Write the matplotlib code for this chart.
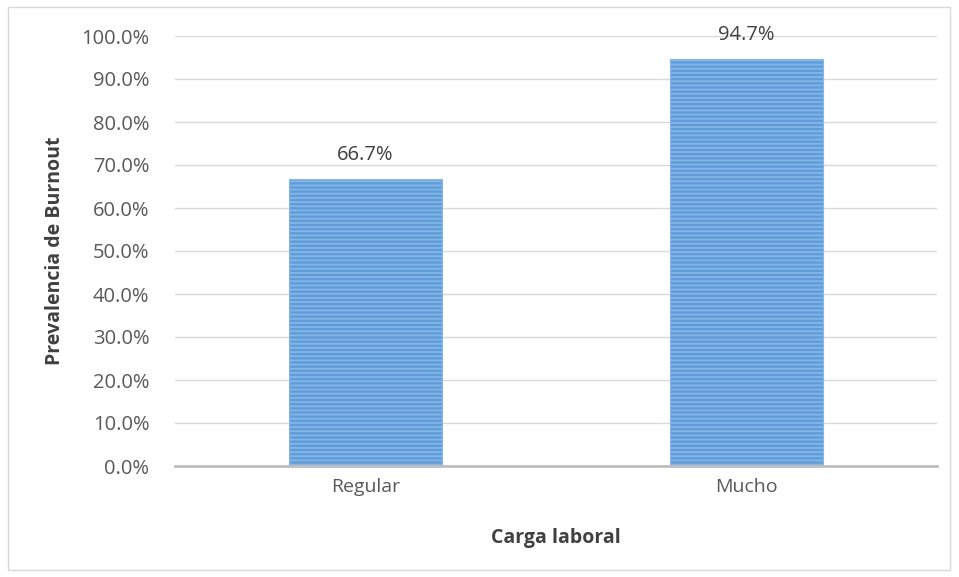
import matplotlib.pyplot as plt
from matplotlib.patches import Rectangle
from matplotlib.ticker import PercentFormatter

categories = ["Regular", "Mucho"]
prevalence = [66.7, 94.7]
y_ticks = [0, 10, 20, 30, 40, 50, 60, 70, 80, 90, 100]

plt.rcParams['font.family'] = ['Open Sans', 'DejaVu Sans']
plt.rcParams['hatch.color'] = '#d3e4f6'
plt.rcParams['hatch.linewidth'] = 1.3

fig = plt.figure(figsize=(9.59, 5.77), dpi=100)
ax = fig.add_axes([175 / 959, 111 / 577, 762 / 959, 430 / 577])

text_color = '#595959'
x = range(len(categories))
bars = ax.bar(x, prevalence, width=0.4, color='#5f9dda', edgecolor='#86b6e6',
              linewidth=0.8, hatch='----', zorder=3)

for xi, v in zip(x, prevalence):
    ax.annotate(f"{v:.1f}%", (xi, v), xytext=(0, 10), textcoords='offset points',
                ha='center', va='bottom', fontsize=14.5, color='#404040')

ax.set_xlim(-0.5, 1.5)
ax.set_ylim(0, 100)
ax.set_yticks(y_ticks)
ax.yaxis.set_major_formatter(PercentFormatter(decimals=1))
ax.set_xticks(list(x))
ax.set_xticklabels(categories)
ax.tick_params(axis='both', length=0, colors=text_color)
ax.tick_params(axis='y', pad=18.5, labelsize=14.5)
ax.tick_params(axis='x', pad=9, labelsize=14)
ax.grid(axis='y', color='#d9d9d9', linewidth=1, zorder=0)
for side in ['top', 'right', 'left']:
    ax.spines[side].set_visible(False)
ax.spines['bottom'].set_color('#bfbfbf')
ax.spines['bottom'].set_linewidth(2)
ax.spines['bottom'].set_zorder(4)

ax.set_ylabel("Prevalencia de Burnout", fontsize=14, fontweight='bold',
              color='#404040', labelpad=12)
ax.set_xlabel("Carga laboral", fontsize=14, fontweight='bold',
              color='#404040', labelpad=23)

fig.patches.append(Rectangle((8 / 959, 7 / 577), 942 / 959, 563 / 577,
                             transform=fig.transFigure, fill=False,
                             edgecolor='#d9d9d9', linewidth=1))

fig.savefig('out.png', dpi=100)
